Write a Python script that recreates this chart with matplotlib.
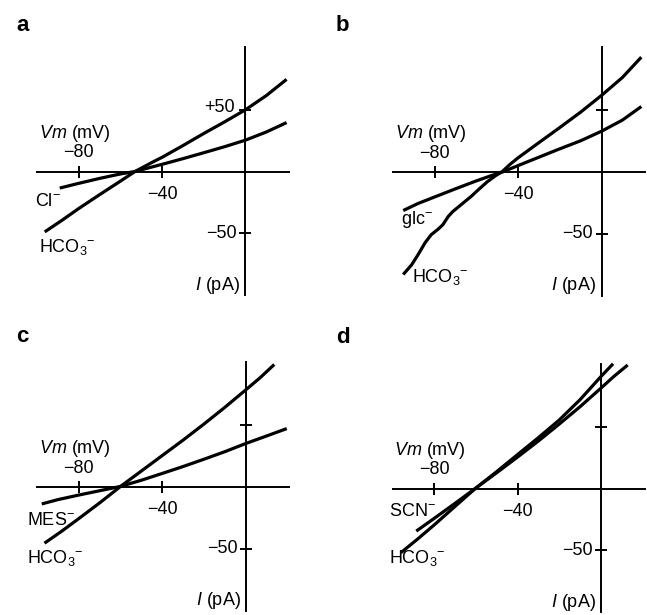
import matplotlib
matplotlib.use("Agg")
import matplotlib.pyplot as plt

plt.rcParams['font.family'] = ['Liberation Sans', 'DejaVu Sans']
plt.rcParams['mathtext.fontset'] = 'custom'
plt.rcParams['mathtext.rm'] = 'Liberation Sans'
plt.rcParams['mathtext.it'] = 'Liberation Sans:italic'
plt.rcParams['mathtext.bf'] = 'Liberation Sans:bold'

# ---------------- data (Vm in mV, I in pA) ----------------
a_hco3_v = [-96.3, -88, -80, -70, -60, -53, -45, -40, -30, -20, -10, 0, 10, 19.7]
a_hco3_i = [-48.9, -39.5, -30, -18.8, -7.8, 0, 7.2, 11.5, 21, 30.8, 40.2, 50, 61.5, 74.6]
a_cl_v = [-89.1, -80, -70, -60, -53, -45, -40, -30, -20, -10, 0, 10, 19.7]
a_cl_i = [-13.4, -9.6, -5.6, -2, 0, 3.6, 5.8, 10.4, 15.2, 20.1, 25.4, 32, 39.6]

b_hco3_v = [-95.1, -91, -88, -84.5, -81.7, -78.5, -76.1, -73.5, -71.3, -67, -62.6,
            -58.5, -54.7, -51, -47.5, -44, -40, -30, -20, -10, 0, 10, 19.1]
b_hco3_i = [-83, -75, -67, -57, -50.8, -46.5, -42.7, -36, -32, -26, -19.9,
            -13.5, -7.8, -3.2, 0.5, 6, 11.5, 23.8, 36, 48.5, 62, 76.5, 93]
b_glc_v = [-95.1, -88, -80, -70, -61, -54, -47.5, -40, -30, -21.3, -10, 0, 10, 19.1]
b_glc_i = [-31.2, -25.5, -20.2, -13.6, -7.8, -3.6, 0, 5.2, 12, 17.9, 25.3, 33, 42, 53]

c_hco3_v = [-96.5, -88, -80, -70, -60, -50, -40, -30, -20, -10, 0, 7, 13.7]
c_hco3_i = [-45.5, -35.5, -25.5, -12.8, 0.5, 13, 25.5, 38, 51, 64.5, 78.6, 88.6, 99.2]
c_mes_v = [-97.8, -90, -80, -70, -60, -50, -40, -30, -20, -10, 0, 10, 19.7]
c_mes_i = [-13.7, -10.2, -6.5, -3, 0.5, 5.5, 11, 16.6, 22.5, 28.6, 35.2, 41.3, 47.3]

d_hco3_v = [-96, -88, -80, -70, -60.3, -50, -40, -30, -20, -10, 0, 5.8]
d_hco3_i = [-52, -41, -29.5, -14.5, 0, 13.7, 27.5, 41.2, 55.5, 72, 90.7, 101]
d_scn_v = [-88.6, -80, -70, -60.3, -50, -40, -30, -20, -10, 0, 6, 12.8]
d_scn_i = [-34.5, -24.2, -12, 0, 12.8, 25.5, 38.5, 52.2, 66.3, 81.3, 90.5, 100]

panel_letters = ['a', 'b', 'c', 'd']
x_ticks = [-80, -40]
y_ticks = [-50, 50]
HCO3 = 'HCO$_{3}{}^{-}$'
panels = [
    dict(curves=[(a_hco3_v, a_hco3_i), (a_cl_v, a_cl_i)],
         labels=[('Cl$^{-}$', -101, -28), (HCO3, -99, -65.5)], plus50=True),
    dict(curves=[(b_hco3_v, b_hco3_i), (b_glc_v, b_glc_i)],
         labels=[('glc$^{-}$', -96, -42.5), (HCO3, -91, -89)], plus50=False),
    dict(curves=[(c_hco3_v, c_hco3_i), (c_mes_v, c_mes_i)],
         labels=[('MES$^{-}$', -105, -30.4), (HCO3, -105, -61.3)], plus50=False),
    dict(curves=[(d_hco3_v, d_hco3_i), (d_scn_v, d_scn_i)],
         labels=[('SCN$^{-}$', -101.6, -22.3), (HCO3, -101.6, -60.5)], plus50=False),
]

# ---------------- layout ----------------
W, H = 647, 615
fig = plt.figure(figsize=(W / 100, H / 100), dpi=100)
XL, YL = (-100, 21), (-100, 101)
sx, sy = 2.085, 1.235
wpx, hpx = (XL[1] - XL[0]) * sx, (YL[1] - YL[0]) * sy
origins = [(245.5, 171.5), (601.5, 172.0), (245.7, 487.0), (601.0, 488.5)]
letter_pos = [(16, 30.7), (336, 30.7), (16, 341.7), (336, 343.0)]

fs = 13
for p, (ox, oy), lp, letter in zip(panels, origins, letter_pos, panel_letters):
    left = ox - (0 - XL[0]) * sx
    top = oy - (YL[1] - 0) * sy
    ax = fig.add_axes([left / W, 1 - (top + hpx) / H, wpx / W, hpx / H])
    ax.set_xlim(*XL)
    ax.set_ylim(*YL)
    ax.patch.set_visible(False)
    for s in ['top', 'right']:
        ax.spines[s].set_visible(False)
    ax.spines['left'].set_position(('data', 0))
    ax.spines['bottom'].set_position(('data', 0))
    for s in ['left', 'bottom']:
        ax.spines[s].set_linewidth(1.4)
    ax.set_xticks(x_ticks)
    ax.set_yticks(y_ticks)
    ax.tick_params(direction='inout', length=9, width=1.4,
                   labelbottom=False, labelleft=False)
    for v, i in p['curves']:
        ax.plot(v, i, color='black', lw=2.3, clip_on=False,
                solid_capstyle='butt', solid_joinstyle='round')

    ax.text(-82, 31, '$Vm$ (mV)', fontsize=fs, ha='center', va='center')
    ax.text(-80, 15, '\u221280', fontsize=fs, ha='center', va='center')
    ax.text(-40, -18.5, '\u221240', fontsize=fs, ha='center', va='center')
    ax.text(-4, -50, '\u221250', fontsize=fs, ha='right', va='center')
    if p['plus50']:
        ax.text(-5, 52, '+50', fontsize=fs, ha='right', va='center')
    ax.text(-2.5, -92, '$I$ (pA)', fontsize=fs, ha='right', va='center')
    for txt, x, y in p['labels']:
        ax.text(x, y, txt, fontsize=fs, ha='left', va='baseline')

    fig.text(lp[0] / W, 1 - lp[1] / H, letter, fontsize=16, fontweight='bold',
             ha='left', va='baseline')

fig.savefig('out.png', dpi=100)
